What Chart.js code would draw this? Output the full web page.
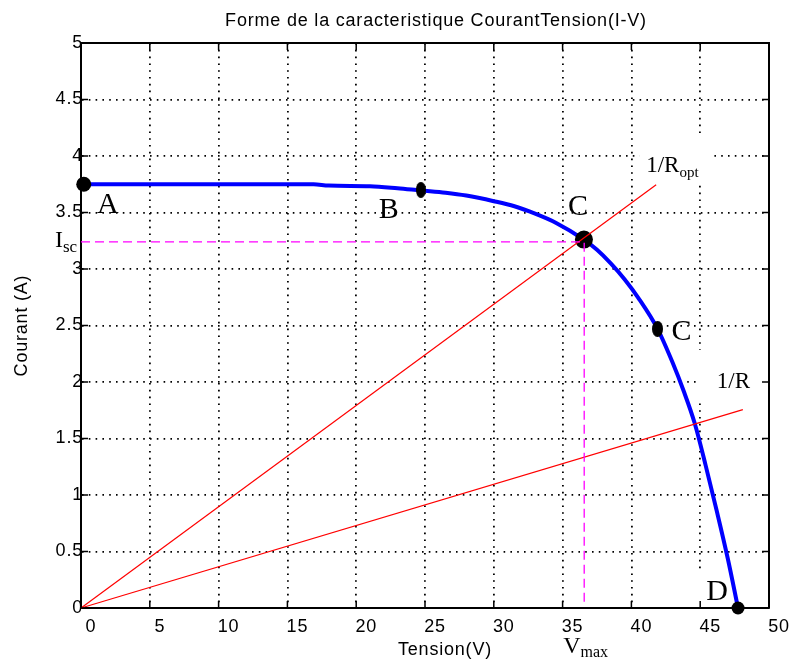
<!DOCTYPE html>
<html>
<head>
<meta charset="utf-8">
<script src="https://cdn.jsdelivr.net/npm/chart.js@4.4.0/dist/chart.umd.min.js"></script>
<style>
  html, body { margin: 0; padding: 0; background: #fff; }
  #wrap { width: 796px; height: 666px; position: relative; }
</style>
</head>
<body>
<div id="wrap"><canvas id="iv"></canvas></div>
<script>
// I-V characteristic of the panel (volts / amps)
const voltage = [0, 5, 10, 16.9, 18, 21, 23, 24.7, 26.5, 28, 30, 31.5, 33, 34.5, 36.55, 37.5, 38.5, 39.5, 40.5, 41.9, 43.0, 43.8, 44.6, 45.4, 46.2, 47.0, 47.75];
const current = [3.75, 3.75, 3.75, 3.75, 3.738, 3.733, 3.715, 3.695, 3.675, 3.65, 3.60, 3.555, 3.49, 3.41, 3.26, 3.17, 3.05, 2.91, 2.745, 2.47, 2.17, 1.92, 1.635, 1.26, 0.86, 0.44, 0];

// operating points along the curve
const pointNames = ['A', 'B', 'C', 'C', 'D'];
const pointV = [0.2, 24.7, 36.55, 41.9, 47.75];
const pointI = [3.75, 3.70, 3.26, 2.47, 0];

// load lines from the origin: [V, I] at their far end
const roptEnd = [41.8, 3.746];
const rEnd = [48.1, 1.755];

// optimum point guides
const iscLevel = 3.24;
const vmaxLevel = 36.57;

const xTicks = [0, 5, 10, 15, 20, 25, 30, 35, 40, 45, 50];
const yTicks = [0, 0.5, 1, 1.5, 2, 2.5, 3, 3.5, 4, 4.5, 5];

const SANS = '"Liberation Sans", Arial, sans-serif';
const SERIF = '"Liberation Serif", "Times New Roman", serif';

function ellipseDot(w, h) {
    const c = document.createElement('canvas');
    c.width = w; c.height = h;
    const g = c.getContext('2d');
    g.fillStyle = '#000';
    g.beginPath(); g.ellipse(w / 2, h / 2, w / 2, h / 2, 0, 0, Math.PI * 2); g.fill();
    return c;
}

function subText(ctx, x, y, main, sub, mainPx, subPx, drop) {
    ctx.textAlign = 'left'; ctx.textBaseline = 'alphabetic';
    ctx.font = mainPx + 'px ' + SERIF;
    ctx.fillText(main, x, y);
    const w = ctx.measureText(main).width;
    ctx.font = subPx + 'px ' + SERIF;
    ctx.fillText(sub, x + w, y + drop);
}

// frame, inward ticks, titles and point labels
const decorations = {
    id: 'decorations',
    beforeDraw(chart) {
        chart.ctx.letterSpacing = '0.8px';
    },
    beforeDatasetsDraw(chart) {
        const { ctx, scales: { x, y } } = chart;
        ctx.save();
        ctx.fillStyle = '#fff';
        // label backgrounds hide the grid behind them
        const ex = x.getPixelForValue(roptEnd[0]), ey = y.getPixelForValue(roptEnd[1]);
        ctx.fillRect(ex - 17, ey - 50, 73, 48);
        const rx = x.getPixelForValue(rEnd[0]), ry = y.getPixelForValue(rEnd[1]);
        ctx.fillRect(rx - 46, ry - 60, 70, 53);
        const dx = x.getPixelForValue(pointV[4]), dy = y.getPixelForValue(pointI[4]);
        ctx.fillRect(dx - 41, dy - 38, 33, 36);
        ctx.restore();
    },
    afterDatasetsDraw(chart) {
        const { ctx, chartArea: a, scales: { x, y } } = chart;
        ctx.save();
        ctx.fillStyle = '#000';
        ctx.letterSpacing = '0px';

        // point letters, offset from their markers (baseline)
        const offs = [[24, 29], [-32, 28], [-6, -25], [24, 11], [-21, -8]];
        ctx.font = '30px ' + SERIF;
        ctx.textAlign = 'center'; ctx.textBaseline = 'alphabetic';
        pointNames.forEach((n, i) => {
            ctx.fillText(n, x.getPixelForValue(pointV[i]) + offs[i][0], y.getPixelForValue(pointI[i]) + offs[i][1]);
        });

        subText(ctx, x.getPixelForValue(roptEnd[0]) - 10, y.getPixelForValue(roptEnd[1]) - 13, '1/R', 'opt', 23, 15, 5);
        ctx.font = '23px ' + SERIF;
        ctx.textAlign = 'left';
        ctx.fillText('1/R', x.getPixelForValue(rEnd[0]) - 26, y.getPixelForValue(rEnd[1]) - 22);

        subText(ctx, a.left - 26, y.getPixelForValue(iscLevel) + 5.5, 'I', 'sc', 24, 17, 5);
        subText(ctx, x.getPixelForValue(vmaxLevel) - 21, a.bottom + 45, 'V', 'max', 24, 16, 4);
        ctx.restore();
    },
    afterDraw(chart) {
        const { ctx, chartArea: a, scales: { x, y } } = chart;
        ctx.save();
        ctx.strokeStyle = '#000';
        ctx.lineWidth = 2;
        ctx.beginPath();
        ctx.moveTo(a.left, a.top); ctx.lineTo(a.right, a.top); ctx.lineTo(a.right, a.bottom);
        ctx.stroke();

        ctx.lineWidth = 1.5;
        ctx.beginPath();
        xTicks.forEach(v => {
            const px = x.getPixelForValue(v);
            ctx.moveTo(px, a.bottom); ctx.lineTo(px, a.bottom - 7);
            ctx.moveTo(px, a.top); ctx.lineTo(px, a.top + 7);
        });
        yTicks.forEach(v => {
            const py = y.getPixelForValue(v);
            ctx.moveTo(a.left, py); ctx.lineTo(a.left + 7, py);
            ctx.moveTo(a.right, py); ctx.lineTo(a.right - 7, py);
        });
        ctx.stroke();

        ctx.fillStyle = '#000';
        ctx.letterSpacing = '0.8px';
        ctx.textAlign = 'center'; ctx.textBaseline = 'middle';
        ctx.font = '18px ' + SANS;
        ctx.fillText('Forme de la caracteristique CourantTension(I-V)', 436, 21);
        ctx.fillText('Tension(V)', 445, 650);
        ctx.translate(22, (a.top + a.bottom) / 2);
        ctx.rotate(-Math.PI / 2);
        ctx.fillText('Courant (A)', 0, 0);
        ctx.restore();
    }
};

const pts = (xs, ys) => xs.map((v, i) => ({ x: v, y: ys[i] }));

new Chart(document.getElementById('iv'), {
    type: 'scatter',
    data: {
        datasets: [
            {
                data: pts(voltage, current), showLine: true, order: 4,
                borderColor: '#0000ff', borderWidth: 4, pointRadius: 0,
                cubicInterpolationMode: 'monotone', clip: false
            },
            {
                data: pts(pointV, pointI), order: 3, clip: false,
                pointStyle: ['circle', ellipseDot(10, 16), 'circle', ellipseDot(11, 16), 'circle'],
                pointRadius: [7.5, 8, 9, 8, 6.5],
                pointBackgroundColor: '#000', pointBorderWidth: 0
            },
            {
                data: pts([0, roptEnd[0]], [0, roptEnd[1]]), showLine: true, order: 2,
                borderColor: '#ff0000', borderWidth: 1.2, pointRadius: 0, clip: false
            },
            {
                data: pts([0, rEnd[0]], [0, rEnd[1]]), showLine: true, order: 2,
                borderColor: '#ff0000', borderWidth: 1.2, pointRadius: 0, clip: false
            },
            {
                data: pts([0, vmaxLevel, vmaxLevel], [iscLevel, iscLevel, 0.05]), showLine: true, order: 1,
                borderColor: '#ff00ff', borderWidth: 1.3, borderDash: [9, 5], pointRadius: 0
            }
        ]
    },
    options: {
        responsive: true, maintainAspectRatio: false, animation: false,
        layout: { padding: { top: 43, right: 27, bottom: 0, left: 0 } },
        plugins: { legend: { display: false }, tooltip: { enabled: false }, title: { display: false } },
        scales: {
            x: {
                type: 'linear', min: 0, max: 50,
                afterBuildTicks: s => { s.ticks = xTicks.map(v => ({ value: v })); },
                afterFit: s => { s.height = 58; },
                grid: { color: '#000', lineWidth: 1.8, drawTicks: false },
                border: { display: true, color: '#000', width: 2, dash: [1.6, 5.2] },
                ticks: { color: '#000', font: { family: SANS, size: 18 }, padding: 8, labelOffset: 10, maxRotation: 0, autoSkip: false, callback: v => String(v) }
            },
            y: {
                type: 'linear', min: 0, max: 5,
                afterBuildTicks: s => { s.ticks = yTicks.map(v => ({ value: v })); },
                afterFit: s => { s.width = 81; },
                grid: { color: '#000', lineWidth: 1.8, drawTicks: false },
                border: { display: true, color: '#000', width: 2, dash: [1.6, 5.2] },
                ticks: { color: '#000', font: { family: SANS, size: 18 }, padding: -2, autoSkip: false, callback: v => String(v) }
            }
        }
    },
    plugins: [decorations]
});
</script>
</body>
</html>
